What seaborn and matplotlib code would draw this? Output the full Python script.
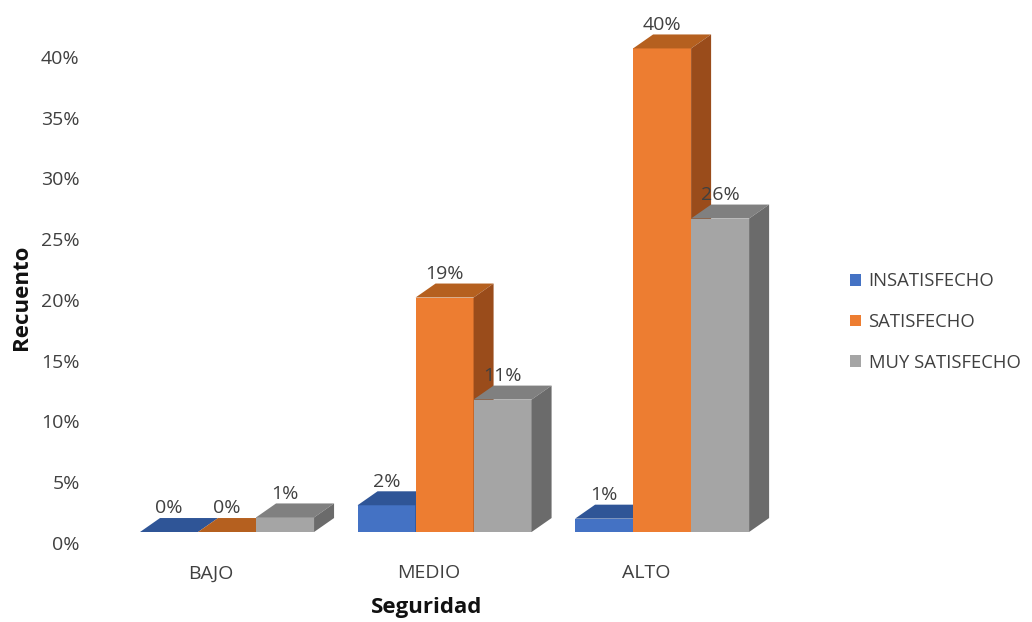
import numpy as np
import pandas as pd
import seaborn as sns
import matplotlib.pyplot as plt
from matplotlib.patches import Polygon, Patch

sns.set_theme(style="white")
plt.rcParams["font.family"] = ["Open Sans", "DejaVu Sans"]

# Survey results: security perception vs. satisfaction level (percent)
categorias = ["BAJO", "MEDIO", "ALTO"]
niveles = ["INSATISFECHO", "SATISFECHO", "MUY SATISFECHO"]
insatisfecho = [0.0, 2.2, 1.1]
satisfecho = [0.0, 19.3, 39.8]
muy_satisfecho = [1.2, 10.9, 25.8]
ticks_y = [0, 5, 10, 15, 20, 25, 30, 35, 40]

colores = ["#4472C4", "#ED7D31", "#A5A5A5"]
colores_techo = ["#2F5597", "#B5601F", "#808080"]
colores_lado = ["#23427A", "#9A4C1B", "#6B6B6B"]

df = pd.DataFrame({
    "Seguridad": np.repeat(categorias, 3),
    "nivel": niveles * 3,
    "valor": np.array([insatisfecho, satisfecho, muy_satisfecho]).T.ravel(),
})

fig = plt.figure(figsize=(10.32, 6.22), dpi=100)
ax = fig.add_axes([95 / 1032, 77 / 622, 705 / 1032, 525 / 622])

sns.barplot(data=df, x="Seguridad", y="valor", hue="nivel", order=categorias,
            hue_order=niveles, palette=colores, saturation=1, width=0.8,
            legend=False, ax=ax, linewidth=0, errorbar=None)

ax.set_xlim(-0.607, 2.634)
ax.set_ylim(-1.07, 42.14)

# depth of the pseudo-3D extrusion (x in category units, y in percent)
dx, dy = 0.092, 1.15

bars = list(ax.patches)
for k, bar in enumerate(bars):
    h = k // 3          # hue index (seaborn draws hue by hue)
    c = k % 3           # category index
    x0 = bar.get_x()
    w = bar.get_width()
    v = bar.get_height()
    z = 2 + c * 0.1 + h * 0.01
    bar.set_zorder(z)
    top = Polygon([(x0, v), (x0 + w, v), (x0 + w + dx, v + dy), (x0 + dx, v + dy)],
                  closed=True, facecolor=colores_techo[h], edgecolor="none", zorder=z + 0.001)
    side = Polygon([(x0 + w, 0), (x0 + w + dx, dy), (x0 + w + dx, v + dy), (x0 + w, v)],
                   closed=True, facecolor=colores_lado[h], edgecolor="none", zorder=z + 0.001)
    ax.add_patch(top)
    ax.add_patch(side)
    ax.text(x0 + w / 2, v + dy + 0.05, f"{v:.0f}%", ha="center", va="bottom",
            fontsize=14, color="#404040", zorder=10)

for s in ax.spines.values():
    s.set_visible(False)

ax.set_yticks([t - 0.9 for t in ticks_y], labels=[f"{t}%" for t in ticks_y])
ax.set_xticks(np.arange(len(categorias)) - 0.074, labels=categorias)
ax.tick_params(axis="y", length=0, pad=11, labelsize=14, labelcolor="#404040")
ax.tick_params(axis="x", length=0, pad=14, labelsize=14, labelcolor="#404040")
ax.set_xlabel("")
ax.set_ylabel("")

fig.text(22 / 1032, 1 - 297 / 622, "Recuento", rotation=90, ha="center", va="center",
         fontsize=16, fontweight="bold", color="#111111")
fig.text(427 / 1032, 1 - 608 / 622, "Seguridad", ha="center", va="center",
         fontsize=16, fontweight="bold", color="#111111")

handles = [Patch(facecolor=col, edgecolor="none") for col in colores]
fig.legend(handles, niveles, loc="center left", bbox_to_anchor=(841 / 1032, 1 - 322 / 622),
           frameon=False, handlelength=0.57, handleheight=0.57, handletextpad=0.42,
           labelspacing=1.22, fontsize=13.3, labelcolor="#404040", borderpad=0)

fig.savefig("out.png", dpi=100)
